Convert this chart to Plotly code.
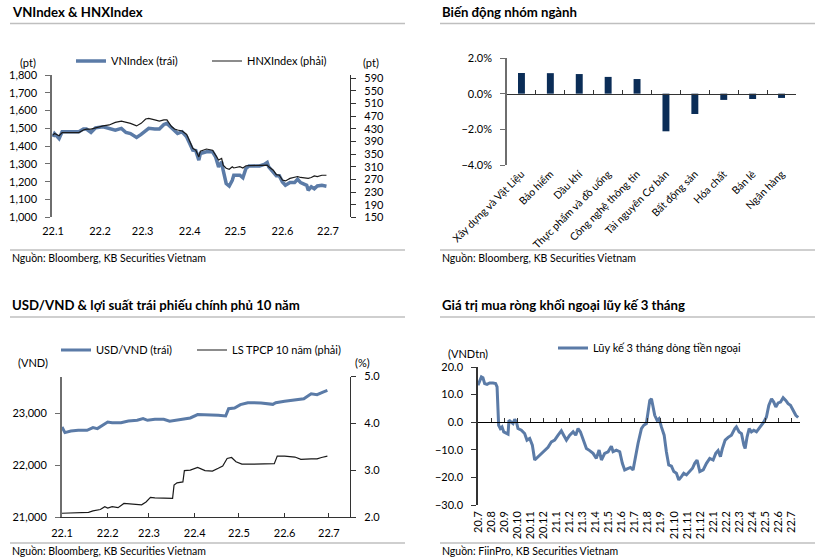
import plotly.graph_objects as go

W, H = 826, 559
def px(x): return x / W
def py(y): return 1 - y / H

BLUE = "#5b7ba7"
NAVY = "#0b2d57"
DARK = "#1a1a1a"
FONT = "Lato"

# ---------------- Panel 1: VNIndex & HNXIndex ----------------
p1_dates = ["2022-01-01", "2022-01-02", "2022-01-05", "2022-01-07", "2022-01-12", "2022-01-18", "2022-01-21",
            "2022-01-23", "2022-01-26", "2022-01-29", "2022-02-03", "2022-02-07", "2022-02-11", "2022-02-15",
            "2022-02-18", "2022-02-21", "2022-02-25", "2022-02-28", "2022-03-03", "2022-03-05", "2022-03-09",
            "2022-03-12", "2022-03-15", "2022-03-17", "2022-03-20", "2022-03-22", "2022-03-24", "2022-03-27",
            "2022-03-30", "2022-04-01", "2022-04-03", "2022-04-05", "2022-04-07", "2022-04-08", "2022-04-12",
            "2022-04-16", "2022-04-18", "2022-04-20", "2022-04-22", "2022-04-23", "2022-04-25", "2022-04-27",
            "2022-04-29", "2022-04-30", "2022-05-04", "2022-05-06", "2022-05-08", "2022-05-10", "2022-05-14",
            "2022-05-17", "2022-05-20", "2022-05-22", "2022-05-23", "2022-05-26", "2022-05-28", "2022-05-30",
            "2022-06-01", "2022-06-03", "2022-06-06", "2022-06-09", "2022-06-11", "2022-06-13", "2022-06-17",
            "2022-06-18", "2022-06-20", "2022-06-22", "2022-06-24", "2022-06-27", "2022-06-30"]
vnindex = [1452, 1471, 1443, 1481, 1481, 1481, 1496, 1496, 1477, 1503, 1509, 1500, 1490, 1500, 1477, 1471,
           1449, 1466, 1490, 1500, 1496, 1496, 1522, 1528, 1503, 1485, 1471, 1481, 1452, 1415, 1377, 1375,
           1321, 1359, 1368, 1368, 1340, 1283, 1312, 1265, 1190, 1176, 1208, 1237, 1237, 1222, 1274, 1289,
           1287, 1289, 1297, 1308, 1283, 1255, 1233, 1233, 1199, 1180, 1195, 1195, 1214, 1195, 1180, 1152,
           1171, 1160, 1176, 1180, 1175]
hnxindex = [410, 415, 408, 418, 418, 418, 426, 429, 429, 433, 439, 442, 450, 454, 450, 447, 439, 447, 461,
            463, 458, 454, 458, 458, 437, 429, 426, 423, 412, 389, 368, 362, 341, 359, 366, 362, 347, 331,
            336, 315, 305, 302, 310, 306, 310, 306, 313, 313, 313, 315, 313, 315, 310, 299, 285, 283, 268,
            265, 273, 276, 279, 276, 273, 273, 276, 281, 279, 283, 283]
month_ticks_2022 = ["2022-01-01", "2022-02-01", "2022-03-01", "2022-04-01", "2022-05-01", "2022-06-01", "2022-07-01"]
month_labels_2022 = ["22.1", "22.2", "22.3", "22.4", "22.5", "22.6", "22.7"]

# ---------------- Panel 2: sector changes ----------------
sectors = ["Xây dựng và Vật Liệu", "Bảo hiểm", "Dầu khí", "Thực phẩm và đồ uống", "Công nghệ thông tin",
           "Tài nguyên Cơ bản", "Bất động sản", "Hóa chất", "Bán lẻ", "Ngân hàng"]
sector_chg = [1.16, 1.15, 1.10, 0.94, 0.82, -2.11, -1.14, -0.35, -0.30, -0.24]

# ---------------- Panel 3: USD/VND & 10Y bond ----------------
usd_dates = ["2022-01-01", "2022-01-03", "2022-01-07", "2022-01-12", "2022-01-18", "2022-01-22", "2022-01-25",
             "2022-01-29", "2022-02-01", "2022-02-04", "2022-02-10", "2022-02-15", "2022-02-21", "2022-02-25",
             "2022-02-28", "2022-03-05", "2022-03-11", "2022-03-15", "2022-03-20", "2022-03-26", "2022-03-29",
             "2022-04-03", "2022-04-10", "2022-04-17", "2022-04-22", "2022-04-24", "2022-04-28", "2022-05-02",
             "2022-05-07", "2022-05-11", "2022-05-16", "2022-05-24", "2022-05-26", "2022-06-01", "2022-06-05",
             "2022-06-11", "2022-06-14", "2022-06-19", "2022-06-23", "2022-06-27", "2022-06-30"]
usdvnd = [22737, 22628, 22660, 22673, 22673, 22724, 22705, 22769, 22833, 22820, 22820, 22852, 22865, 22897,
          22865, 22885, 22885, 22846, 22865, 22897, 22910, 22975, 22975, 22962, 22949, 23090, 23103, 23167,
          23205, 23205, 23199, 23173, 23205, 23231, 23250, 23269, 23282, 23378, 23359, 23410, 23442]
bond_dates = ["2022-01-01", "2022-01-10", "2022-01-19", "2022-01-22", "2022-01-27", "2022-01-30", "2022-02-01",
              "2022-02-04", "2022-02-08", "2022-02-12", "2022-02-19", "2022-02-24", "2022-02-27", "2022-03-02",
              "2022-03-05", "2022-03-11", "2022-03-17", "2022-03-18", "2022-03-20", "2022-03-24", "2022-03-25",
              "2022-03-29", "2022-04-03", "2022-04-08", "2022-04-13", "2022-04-17", "2022-04-20", "2022-04-23",
              "2022-04-26", "2022-04-29", "2022-05-03", "2022-05-11", "2022-05-20", "2022-05-25", "2022-05-27",
              "2022-06-01", "2022-06-08", "2022-06-12", "2022-06-19", "2022-06-23", "2022-06-26", "2022-06-30"]
bond10y = [2.08, 2.09, 2.10, 2.13, 2.16, 2.22, 2.19, 2.22, 2.20, 2.29, 2.28, 2.26, 2.32, 2.42, 2.41, 2.40,
           2.40, 2.68, 2.73, 2.75, 2.99, 3.00, 3.06, 2.99, 2.98, 3.04, 3.09, 3.25, 3.27, 3.18, 3.13, 3.13,
           3.14, 3.14, 3.30, 3.30, 3.28, 3.23, 3.24, 3.24, 3.27, 3.30]

# ---------------- Panel 4: foreign net buying (3M cumulative) ----------------
# x = months elapsed since Jul 2020
flow_month = [0.00, 0.13, 0.26, 0.38, 0.51, 0.69, 0.89, 1.15, 1.35, 1.46, 1.53, 1.58, 1.71, 1.84, 1.97, 2.17,
              2.30, 2.37, 2.55, 2.68, 2.81, 2.94, 3.06, 3.32, 3.57, 3.75, 3.96, 4.16, 4.34, 4.60, 4.85, 5.11,
              5.36, 5.62, 5.87, 6.13, 6.38, 6.56, 6.77, 7.02, 7.28, 7.48, 7.66, 7.84, 8.04, 8.30, 8.55, 8.81,
              9.06, 9.27, 9.45, 9.70, 9.96, 10.21, 10.34, 10.59, 10.85, 11.05, 11.23, 11.49, 11.67, 11.87,
              12.00, 12.25, 12.51, 12.69, 12.89, 13.02, 13.15, 13.28, 13.40, 13.53, 13.71, 13.86, 14.04, 14.25,
              14.42, 14.60, 14.81, 14.99, 15.19, 15.37, 15.57, 15.75, 15.96, 16.16, 16.42, 16.59, 16.77, 16.98,
              17.24, 17.49, 17.74, 18.00, 18.20, 18.38, 18.56, 18.71, 18.92, 19.15, 19.40, 19.66, 19.78, 19.99,
              20.17, 20.35, 20.45, 20.60, 20.76, 20.93, 21.11, 21.32, 21.52, 21.70, 21.88, 22.08, 22.26, 22.47,
              22.64, 22.80, 22.98, 23.16, 23.36, 23.56, 23.74, 23.92, 24.13, 24.33, 24.51]
flow_value = [13.4, 15.2, 16.4, 16.1, 14.0, 13.7, 14.2, 14.2, 14.0, 12.8, 4.3, -1.1, -2.3, -1.7, -3.5, -4.1,
              -4.3, 0.7, 0.1, -0.5, 1.0, 0.1, -2.3, -2.9, -4.1, -6.5, -5.9, -8.3, -13.7, -12.5, -11.6, -10.1,
              -9.1, -7.1, -6.5, -4.7, -3.1, -4.7, -6.5, -4.7, -3.5, -4.7, -2.3, -3.5, -5.9, -9.5, -10.3, -11.3,
              -13.1, -10.1, -13.7, -11.3, -10.7, -8.7, -10.7, -10.1, -10.7, -14.9, -17.3, -16.7, -16.4, -17.3,
              -13.7, -7.7, -2.3, -1.1, -0.5, 4.3, 7.9, 8.5, 5.5, 2.5, 0.7, 1.3, -1.7, -4.7,
              -10.7, -15.5, -15.9, -17.9, -18.5, -20.9, -19.7, -18.5, -19.1, -17.9, -16.7, -14.9, -13.7, -17.9,
              -17.3, -14.9, -13.1, -13.7, -11.3, -10.3, -12.5, -9.5, -6.5, -5.5, -4.7, -2.3, -1.7, -3.5,
              -4.1, -8.3, -9.5, -5.3, -2.3, -3.5, -2.9, -3.5, -2.3, -1.1, 0.1, 1.9, 6.1, 8.5,
              7.3, 5.5, 7.0, 7.3, 8.9, 7.9, 6.7, 6.1, 4.3, 2.5, 1.7]
flow_labels = ["20.7", "20.8", "20.9", "20.10", "20.11", "20.12", "21.1", "21.2", "21.3", "21.4", "21.5",
               "21.6", "21.7", "21.8", "21.9", "21.10", "21.11", "21.12", "22.1", "22.2", "22.3", "22.4",
               "22.5", "22.6", "22.7"]

fig = go.Figure()

fig.add_trace(go.Scatter(x=p1_dates, y=vnindex, name="VNIndex (trái)", mode="lines",
                         line=dict(color=BLUE, width=3.5), xaxis="x", yaxis="y", legend="legend"))
fig.add_trace(go.Scatter(x=p1_dates, y=hnxindex, name="HNXIndex (phải)", mode="lines",
                         line=dict(color=DARK, width=1.2), xaxis="x", yaxis="y2", legend="legend2"))

fig.add_trace(go.Bar(x=sectors, y=sector_chg, marker=dict(color=NAVY, line=dict(width=0)), width=0.24,
                     xaxis="x2", yaxis="y3", showlegend=False))
fig.add_trace(go.Scatter(x=[-0.5, len(sectors) - 0.5], y=[0, 0], mode="markers", marker=dict(opacity=0),
                         xaxis="x3", yaxis="y3", showlegend=False, hoverinfo="skip"))

fig.add_trace(go.Scatter(x=usd_dates, y=usdvnd, name="USD/VND (trái)", mode="lines",
                         line=dict(color=BLUE, width=3), xaxis="x4", yaxis="y4", legend="legend3"))
fig.add_trace(go.Scatter(x=bond_dates, y=bond10y, name="LS TPCP 10 năm (phải)", mode="lines",
                         line=dict(color=DARK, width=1.2), xaxis="x4", yaxis="y5", legend="legend4"))

fig.add_trace(go.Scatter(x=flow_month, y=flow_value, name="Lũy kế 3 tháng dòng tiền ngoại", mode="lines",
                         line=dict(color=BLUE, width=3), xaxis="x5", yaxis="y6", legend="legend5"))
fig.add_trace(go.Scatter(x=[0, len(flow_labels) - 1], y=[0, 0], mode="markers", marker=dict(opacity=0),
                         xaxis="x6", yaxis="y6", showlegend=False, hoverinfo="skip"))

tickfont = dict(family=FONT, size=11, color="#000")
AX_L = "#6e6e6e"
AX_R = "#333333"

def legend_at(x, y):
    return dict(x=px(x), y=py(y), xanchor="left", yanchor="middle", orientation="h",
                bgcolor="rgba(0,0,0,0)", borderwidth=0, itemwidth=30,
                font=dict(family=FONT, size=11, color="#000"), tracegroupgap=0)

common = dict(automargin=False, showgrid=False, zeroline=False)

fig.update_layout(
    template="none",
    width=W, height=H, margin=dict(l=0, r=0, t=0, b=0, autoexpand=False),
    paper_bgcolor="white", plot_bgcolor="rgba(0,0,0,0)",
    font=dict(family=FONT, size=11, color="#000"),
    showlegend=True,
    legend=legend_at(71, 61), legend2=legend_at(207, 61),
    legend3=legend_at(56, 350), legend4=legend_at(192, 350),
    legend5=legend_at(553, 348),
    # Panel 1
    xaxis=dict(domain=[px(52), px(350)], anchor="y", type="date",
               range=["2021-12-31 08:00", "2022-07-15 12:00"],
               tickvals=month_ticks_2022, ticktext=month_labels_2022, ticks="", showline=False,
               tickfont=tickfont, ticklabelstandoff=6, **common),
    yaxis=dict(domain=[py(217.3), py(75)], anchor="x", range=[1000, 1800], dtick=100, tickformat=",",
               showline=True, linecolor=AX_L, linewidth=1.5, ticks="outside", ticklen=5, tickcolor=AX_L,
               tickfont=tickfont, ticklabelstandoff=6, **common),
    yaxis2=dict(overlaying="y", side="right", anchor="x", range=[150, 600],
                tickvals=list(range(150, 600, 40)), showline=True, linecolor=AX_R, linewidth=1.2,
                ticks="outside", ticklen=5, tickcolor=AX_R, tickfont=tickfont, ticklabelstandoff=6, **common),
    # Panel 2
    xaxis2=dict(domain=[px(507), px(796)], anchor="y3", type="category", tickangle=-45, ticks="",
                showline=False, tickfont=dict(family=FONT, size=10.5, color="#000"),
                range=[-0.5, len(sectors) - 0.5], **common),
    yaxis3=dict(domain=[py(165), py(58)], anchor="x2", range=[-4, 2], dtick=2, tickformat=".1f",
                ticksuffix="%", showline=True, linecolor=AX_L, linewidth=1.5, ticks="outside", ticklen=5,
                tickcolor=AX_L, tickfont=tickfont, ticklabelstandoff=6, **common),
    xaxis3=dict(overlaying="x2", anchor="free", position=py(93.7), range=[-0.5, len(sectors) - 0.5],
                tickvals=[i - 0.5 for i in range(len(sectors) + 1)], ticks="inside", ticklen=4,
                tickcolor=AX_R, showticklabels=False, showline=True, linecolor=AX_R, linewidth=1.2, **common),
    # Panel 3
    xaxis4=dict(domain=[px(62), px(350)], anchor="y4", type="date",
                range=["2022-01-01", "2022-07-15 08:00"],
                tickvals=month_ticks_2022, ticktext=month_labels_2022, ticks="inside", ticklen=4,
                tickcolor=AX_R, showline=True, linecolor=AX_R, linewidth=1.2,
                tickfont=tickfont, ticklabelstandoff=6, **common),
    yaxis4=dict(domain=[py(517), py(376.5)], anchor="x4", range=[21000, 23710],
                tickvals=[21000, 22000, 23000], tickformat=",", showline=True, linecolor=AX_L, linewidth=2,
                ticks="outside", ticklen=5, tickcolor=AX_L, tickfont=tickfont, ticklabelstandoff=6, **common),
    yaxis5=dict(overlaying="y4", side="right", anchor="x4", range=[2, 5], dtick=1, tickformat=".1f",
                showline=True, linecolor=AX_R, linewidth=1.2, ticks="outside", ticklen=5, tickcolor=AX_R,
                tickfont=tickfont, ticklabelstandoff=6, **common),
    # Panel 4
    xaxis5=dict(domain=[px(478), px(800)], anchor="y6", range=[0, 24.65],
                tickvals=list(range(len(flow_labels))), ticktext=flow_labels, tickangle=-90, ticks="",
                showline=False, tickfont=tickfont, ticklabelstandoff=3, **common),
    yaxis6=dict(domain=[py(505), py(367)], anchor="x5", range=[-30, 20], dtick=10, tickformat=".1f",
                showline=True, linecolor=AX_R, linewidth=1.5, ticks="outside", ticklen=5, tickcolor=AX_R,
                tickfont=tickfont, ticklabelstandoff=6, **common),
    xaxis6=dict(overlaying="x5", anchor="free", position=py(422.2), range=[0, 24.65],
                tickvals=list(range(len(flow_labels))), ticks="inside", ticklen=4, tickcolor=AX_R,
                showticklabels=False, showline=True, linecolor="#000", linewidth=1.2, **common),
)

# Titles, sources, unit labels
titles = [("VNIndex & HNXIndex", 10, 12), ("Biến động nhóm ngành", 440, 12),
          ("USD/VND & lợi suất trái phiếu chính phủ 10 năm", 10, 305),
          ("Giá trị mua ròng khối ngoại lũy kế 3 tháng", 440, 305)]
sources = [("Nguồn: Bloomberg, KB Securities Vietnam", 10, 258),
           ("Nguồn: Bloomberg, KB Securities Vietnam", 440, 258),
           ("Nguồn: Bloomberg, KB Securities Vietnam", 10, 551),
           ("Nguồn: FiinPro, KB Securities Vietnam", 440, 551)]
units = [("(pt)", 28, 63), ("(pt)", 371, 62), ("(VND)", 33, 362), ("(%)", 362, 362), ("(VNDtn)", 468, 353)]

ann = []
for t, x, y in titles:
    ann.append(dict(text="<b>" + t + "</b>", x=px(x), y=py(y), xref="paper", yref="paper",
                    xanchor="left", yanchor="middle", showarrow=False,
                    font=dict(family=FONT, size=13.2, color="#000")))
for t, x, y in sources:
    ann.append(dict(text=t, x=px(x), y=py(y), xref="paper", yref="paper", xanchor="left",
                    yanchor="middle", showarrow=False, font=dict(family=FONT, size=10.5, color="#000")))
for t, x, y in units:
    ann.append(dict(text=t, x=px(x), y=py(y), xref="paper", yref="paper", xanchor="center",
                    yanchor="middle", showarrow=False, font=dict(family=FONT, size=11, color="#000")))

shapes = []
for x0, x1, y in [(10, 405, 23.5), (440, 815, 23.5), (10, 405, 250), (440, 815, 250),
                  (10, 405, 317), (440, 815, 317), (10, 405, 543), (440, 815, 543)]:
    shapes.append(dict(type="line", xref="paper", yref="paper", x0=px(x0), x1=px(x1), y0=py(y), y1=py(y),
                       line=dict(color="#bfbfbf", width=1.5)))

fig.update_layout(annotations=ann, shapes=shapes)
fig.write_html("out.html")
